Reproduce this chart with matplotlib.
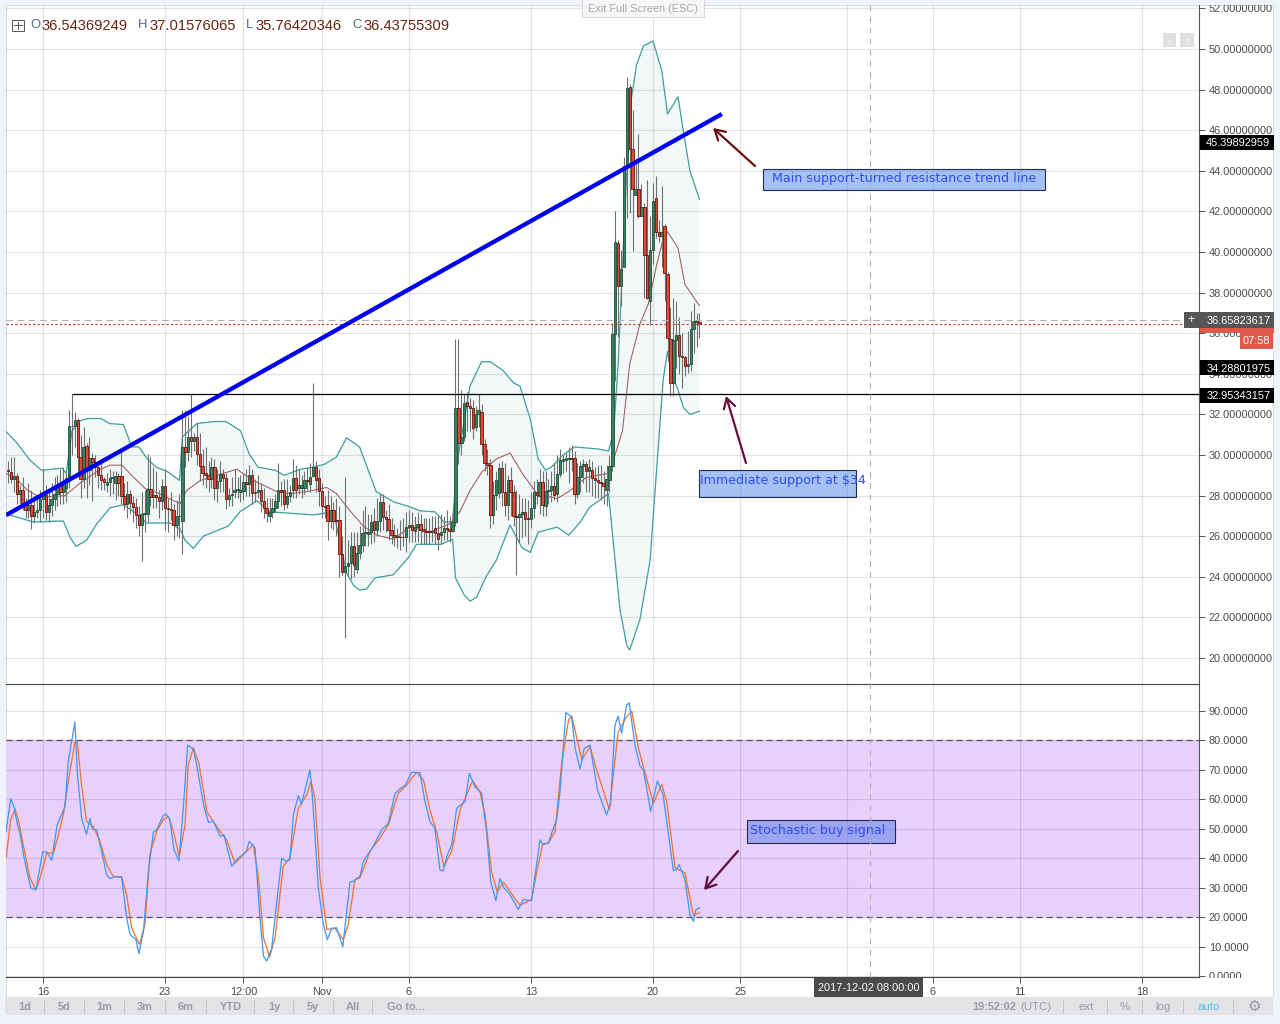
import numpy as np
import matplotlib
matplotlib.use('Agg')
import matplotlib.pyplot as plt
from matplotlib.patches import Rectangle

plt.rcParams['font.family'] = ['Liberation Sans', 'DejaVu Sans']

# 4h candles
opens = [29.26,29.16,28.82,28.95,28.08,28.30,27.55,27.30,27.55,27.00,
         27.20,27.30,27.85,28.05,27.20,27.55,27.85,28.10,28.50,28.20,
         28.40,28.85,31.45,31.45,31.75,29.90,28.80,30.45,29.25,29.85,
         29.65,29.40,29.00,28.80,28.50,28.65,28.85,28.60,28.95,28.95,
         28.00,27.60,28.10,27.65,27.45,27.05,26.55,27.10,27.10,28.35,
         27.95,28.05,27.95,27.75,28.45,27.40,27.35,27.30,26.55,27.00,
         26.75,30.40,30.15,30.90,30.70,30.90,30.05,29.45,29.10,29.00,
         28.80,29.40,28.40,28.70,29.05,28.85,27.85,28.05,28.20,28.30,
         28.20,28.25,28.65,28.55,29.00,28.15,28.20,28.30,27.75,27.40,
         27.00,27.20,27.40,27.75,28.30,28.30,27.60,28.00,28.30,28.85,
         28.40,28.40,28.40,28.75,28.55,28.95,29.40,28.85,28.25,27.50,
         27.55,26.75,27.30,26.80,26.80,25.10,24.25,24.55,24.70,25.50,
         24.40,25.15,25.55,26.15,26.10,26.20,26.75,26.30,26.75,27.70,
         26.95,26.85,26.30,26.05,25.95,25.98,25.97,25.95,26.45,26.55,
         26.25,26.45,26.60,26.35,26.25,26.25,26.20,26.40,26.15,26.05,
         26.20,26.40,26.35,26.25,26.70,32.30,30.60,30.90,32.60,32.40,
         32.30,31.40,32.00,32.10,30.55,29.60,29.50,27.05,28.05,28.15,
         29.35,28.20,27.55,28.75,28.20,27.00,26.95,27.10,27.20,26.90,
         26.85,27.40,28.20,28.00,28.65,27.50,28.25,28.30,28.45,28.10,
         29.05,29.70,29.75,29.80,29.85,29.85,28.10,28.90,29.45,29.55,
         29.20,29.25,28.85,28.75,28.65,28.60,28.30,28.75,29.45,35.95,
         40.45,38.35,39.25,44.25,48.15,45.10,42.80,43.10,41.80,42.20,
         39.85,37.60,40.10,42.65,41.00,40.80,41.30,38.90,35.70,33.55,
         35.65,35.90,34.90,34.85,34.40,34.50,36.20,36.60,36.54]
closes = [29.20,28.82,28.95,28.08,28.28,27.60,27.30,27.55,27.00,27.20,
          27.30,27.85,28.05,27.20,27.55,27.85,28.10,28.50,28.20,28.60,
          28.85,31.45,31.42,31.75,29.90,28.80,30.40,29.25,29.85,29.65,
          29.40,29.00,28.75,28.65,28.65,28.85,28.90,28.95,28.60,28.00,
          27.60,28.10,27.65,27.45,27.05,26.55,27.10,27.15,28.35,27.95,
          28.05,27.95,27.75,28.45,27.40,27.35,27.30,26.55,27.00,27.00,
          30.40,30.15,30.90,30.70,30.90,30.05,29.45,29.10,29.00,28.80,
          29.40,28.40,28.70,29.05,28.85,27.85,28.05,28.10,28.30,28.35,
          28.30,28.65,28.55,29.00,28.15,28.20,28.30,27.75,27.40,27.15,
          27.20,27.40,27.75,28.30,28.20,27.60,28.00,28.20,28.85,28.30,
          28.50,28.50,28.75,28.70,28.90,29.40,28.75,28.25,27.50,27.45,
          26.75,27.30,26.76,26.75,25.10,24.25,24.55,24.70,25.50,24.60,
          25.15,25.55,26.15,26.20,26.20,26.70,26.30,26.75,27.70,26.95,
          26.85,26.30,26.05,25.95,26.00,25.95,25.95,26.45,26.55,26.30,
          26.45,26.60,26.30,26.25,26.20,26.20,26.25,26.15,25.85,26.20,
          26.40,26.35,26.25,26.70,32.30,30.60,30.90,32.55,32.40,32.30,
          31.35,32.00,32.20,30.55,29.60,29.50,27.05,28.05,28.75,29.35,
          28.20,27.55,28.75,28.20,27.00,26.95,27.10,27.20,26.85,26.85,
          27.40,28.20,28.05,28.65,27.55,28.25,28.30,28.45,28.05,29.05,
          29.75,29.80,29.85,29.85,29.80,28.10,28.90,29.45,29.55,29.20,
          29.40,28.85,28.75,28.65,28.60,28.45,28.80,29.45,35.95,40.50,
          38.35,39.15,44.25,48.10,45.10,43.10,43.10,41.80,42.20,39.85,
          37.75,40.10,42.50,41.00,40.80,41.00,38.95,35.75,33.55,35.65,
          35.90,34.90,34.85,34.40,34.50,36.20,36.60,36.55,36.44]
highs = [29.7,29.9,29.9,29.1,28.5,28.9,27.9,28.6,28.3,28.0,
         27.9,28.3,29.3,28.5,28.3,28.6,28.9,29.0,29.3,29.4,
         29.1,32.2,33.0,32.1,31.8,31.0,31.4,30.6,30.9,30.1,
         30.0,29.7,29.6,28.9,29.1,29.3,29.2,29.2,29.1,30.2,
         28.6,28.7,28.3,28.0,27.9,27.5,28.2,28.3,30.05,29.9,
         29.4,29.2,28.3,28.8,29.3,27.9,28.2,27.6,27.8,28.1,
         32.2,32.2,31.9,33.0,31.1,31.6,31.1,30.3,30.4,29.7,
         29.9,29.8,29.3,29.7,29.3,29.1,28.4,28.9,29.3,28.9,
         29.0,29.1,29.3,29.5,29.3,28.8,29.0,28.6,28.4,27.9,
         27.9,27.9,28.1,29.6,28.7,28.8,28.8,28.5,29.8,29.5,
         29.3,29.0,29.2,29.4,29.6,33.55,29.7,29.3,28.6,28.0,
         28.3,28.0,27.7,27.9,27.5,26.0,28.9,25.8,26.2,26.2,
         26.2,26.5,27.3,27.5,27.1,27.1,27.4,27.9,28.1,28.1,
         27.3,27.6,26.9,26.6,26.4,26.8,26.9,27.2,27.3,27.2,
         27.0,27.2,27.1,26.9,26.9,26.9,27.0,27.0,27.0,27.1,
         27.0,27.3,27.0,27.3,35.7,35.7,33.2,33.0,33.1,32.8,
         32.7,32.4,33.0,32.5,30.8,30.3,29.8,28.7,29.2,29.6,
         29.7,29.6,29.0,29.4,28.5,28.3,28.1,27.9,27.9,27.8,
         28.2,28.7,28.8,29.3,29.2,29.2,28.8,29.2,29.6,30.0,
         30.3,30.0,30.1,30.4,30.5,30.2,29.6,29.7,29.8,29.7,
         29.8,29.7,29.4,29.5,29.5,29.2,29.5,30.0,36.5,42.0,
         40.6,40.1,44.7,48.6,48.3,47.0,44.65,45.8,43.35,42.4,
         43.55,41.8,43.4,43.75,41.6,43.25,41.4,39.0,37.3,37.75,
         37.6,36.8,36.0,34.9,36.1,37.1,37.5,37.0,37.02]
lows = [28.6,28.6,28.2,27.6,27.6,27.3,26.9,26.9,26.35,26.7,
        26.9,26.7,26.9,26.8,26.7,27.0,27.3,27.5,27.6,27.6,
        27.7,28.4,30.0,30.4,28.9,27.9,28.4,27.9,28.5,27.75,
        28.9,28.4,28.3,28.3,28.2,28.0,28.1,27.8,28.0,27.6,
        27.3,26.9,27.1,26.7,26.4,26.0,24.8,26.2,26.7,27.5,
        27.4,27.4,26.9,27.3,26.3,26.2,26.8,25.8,26.0,25.9,
        25.1,29.4,29.7,29.9,30.2,29.5,28.7,28.5,28.4,28.2,
        28.4,27.8,27.7,28.2,28.2,27.35,27.5,27.5,27.9,27.9,
        27.7,27.8,28.0,28.0,27.6,27.7,27.9,27.2,26.9,26.7,
        26.7,26.9,27.2,27.4,27.5,27.3,27.4,27.7,27.9,27.9,
        28.1,27.9,28.1,28.3,28.2,28.9,28.2,27.5,26.9,26.9,
        25.8,26.4,26.3,26.0,24.0,24.1,21.0,24.1,23.9,24.0,
        24.2,24.9,25.2,25.5,25.5,25.6,25.7,26.0,26.2,26.3,
        26.2,25.8,25.6,25.5,25.4,25.3,25.5,25.2,25.7,25.7,
        25.7,25.7,25.6,25.6,25.6,25.6,25.7,25.6,25.3,25.6,
        25.8,25.8,25.7,26.2,26.5,29.55,30.0,30.7,31.2,31.2,
        30.8,31.2,31.4,30.0,29.2,29.0,26.4,26.6,27.3,27.9,
        27.5,27.0,26.8,27.0,26.5,24.1,25.7,25.9,26.0,25.6,
        26.4,26.9,27.6,27.1,27.0,27.0,27.6,27.7,27.8,27.7,
        28.9,29.1,29.2,28.6,29.2,27.6,27.9,28.2,28.6,28.2,
        28.2,28.0,27.9,27.9,27.8,27.6,27.5,28.2,29.2,33.65,
        35.8,37.35,39.4,41.7,41.9,40.05,42.85,41.7,42.1,37.75,
        37.7,36.4,39.4,40.7,40.5,39.25,37.6,34.65,32.9,32.9,
        34.3,34.0,33.3,33.9,34.05,34.15,35.05,35.3,35.76]

# Bollinger bands (bar index, price)
upper_x = [-0.7,3,7.5,11.5,18.5,20,22,25,27.6,32,35,39.7,42.6,45,48,51,54.7,59,60,65,70.7,75,80,83,86,92,95,100.7,105,109,
           113,116.5,121,126.7,132.6,138.3,141.8,147,150,153,154.5,159,163,166,170.5,174,176.2,179.7,182.5,185,187,191,195,199,203,206.7,
           208.5,210,212,214,216.3,218.7,222,225,227,230.6,232.4,234.7,238]
upper = [31.15,30.6,29.75,29.25,29.35,29.1,31.2,31.7,31.8,31.8,31.55,31.5,30.4,30.4,29.8,29.4,29.2,28.75,30.9,31.55,31.65,31.65,31.2,30.05,29.4,29.25,29.0,29.3,29.4,29.55,
         29.9,30.85,30.4,28.2,27.7,27.45,27.25,27.2,26.7,26.7,29.55,33.4,34.6,34.6,34.15,33.55,33.4,31.8,29.8,29.25,29.4,30.0,30.4,30.35,30.3,30.2,
         31.2,34.5,41.0,47.05,49.2,50.15,50.4,48.95,46.8,47.65,46.0,44.0,42.6]
mid_x = [-0.7,3,6.4,9.9,15,19.6,24.2,31.7,35.1,39.2,43.2,47.2,51.2,59.2,61.4,66.2,73,78.7,84.4,92.4,97,102.8,109.7,113,
         117.7,122.3,127,132.6,138.3,145,152,155.5,159,163,168,172.8,177,182,189,193.5,199,206.7,208.5,
         211.5,214,217.5,220.4,223.3,225.6,227,230.6,233,238]
mid = [29.1,28.8,28.3,28.0,27.95,28.0,28.55,29.3,29.5,29.5,28.9,28.35,28.15,27.6,28.25,28.75,29.05,29.3,28.75,28.2,28.1,28.2,28.4,28.1,
       27.25,26.5,26.05,25.85,26.45,26.2,26.6,27.2,28.25,29.15,29.8,30.1,29.1,28.1,27.85,28.25,28.9,29.1,29.8,
       31.2,34.5,36.45,37.45,39.4,40.7,41.0,40.2,38.4,37.35]
lower_x = [-0.7,8.7,19,21.3,23.4,27,30.5,35.1,39.7,44.3,47.7,55.7,59.2,60.9,63.8,67.2,75.8,79.8,85.6,90.2,105.1,112,
           116.5,119,121,123.4,126.3,132.6,137.8,140.6,149,153,154,157,159,161.3,164.7,168,172.8,176.8,179.7,182.5,189,193,197,200,206.7,208.5,
           210.6,213,214,217.5,221,223,225.5,227,228.5,230.4,232.4,234.7,238]
lower = [27.1,26.7,26.75,25.95,25.5,25.8,26.6,27.4,27.55,27.1,26.65,26.65,26.35,25.8,25.4,26.0,26.5,27.2,27.75,27.2,27.05,27.2,
         24.2,23.55,23.35,23.4,23.95,24.1,24.95,25.6,25.6,25.85,23.95,23.1,22.8,23.0,24.05,24.8,26.55,25.45,25.2,26.2,26.45,26.05,26.7,27.4,28.1,25.45,
         22.4,20.6,20.4,21.9,24.8,28.8,33.7,35.1,33.85,33.3,32.35,32.0,32.15]

# stochastic %K and %D (bar index, value)
k_x = [-0.7,0.9,2,3.2,4.1,5.5,7.8,9.6,11.9,13.3,15,16.9,19.6,20.7,23,23.8,25.3,27,28.2,29,30.5,32.2,33.9,35,36.8,39.1,40.8,42,44,45,
       46.6,48.3,50,51.1,53.4,54.4,55.7,57.1,58.8,60.3,61.8,63.8,64.9,67.4,69,70.6,73,74.3,77,78.7,82,83,85,86.7,87.9,89,90.7,92.4,94.2,95.7,
       97,98.2,99.9,101,103.9,104.8,106.8,108.5,109.9,111.4,113.1,115.2,117.7,119,120.6,121.1,122.3,125.7,128.6,130.9,133.2,135.5,136.6,138.9,141.8,143.5,145.2,146.9,148.7,149.8,
       151.2,152.7,154.4,157.3,158.8,160.7,163,164.7,166.1,167.9,169.3,170.7,172.8,175.6,177.4,180.2,183.1,184,186,187.1,188.8,190,192,194,195.2,196.9,198.3,200.3,
       202.9,206,207.4,208.9,210,211.2,212.9,213.8,215.8,217.5,218.7,221.2,223.5,225.5,229,230.1,231,233,234.7,235.9,236.8,238]
k_val = [49.1,60.2,57.6,51.4,48.6,40.1,30,29.4,42.2,42.2,39.4,51.4,57.6,72.8,86.3,69.4,53.6,48.2,53.6,50,49.7,42.4,34.5,33.2,33.8,33.6,19.9,14.2,12.5,7.7,
         15.4,35.6,48.9,49.7,54.5,55,53.1,43,39.2,57,78.4,77.1,71.7,57.6,52.2,52.7,47.5,48,37.3,39.6,42.4,45.8,43.5,19.9,6.9,5.2,9.2,24.4,40.1,39,
         39.6,54.8,61.3,58.4,70,60.4,30,17.6,12.5,16.3,16.5,10,32,32.3,33.6,33.9,39,44.1,49.7,52,62.1,64.1,64.6,69.2,69.1,59.3,52.5,50.3,35.9,35.9,
         41.3,44.6,57,59.3,68.9,64.3,62.1,49.1,32.3,25.7,33.2,30,27.7,22.7,26.1,25.7,46.3,44.9,45.2,48.6,53.1,62.7,89.5,88,77.3,70.3,77.3,78.4,
         63.2,54.8,58.7,85.2,88.3,82.4,91.9,92.8,78.4,71.4,70,55.9,66.3,61.5,35.9,36.2,37.9,32.8,21,18.7,22.7,23.2]
d_x = [-0.7,0.9,2.4,3.5,5.2,7.5,9.6,11,13.3,15.6,17.3,19,20.7,23,23.8,25.3,27,29.3,31.6,33.9,36.2,39.1,40.8,42.5,45.2,47.1,48.8,51.1,53.4,55.2,
       56.9,58.9,60.9,62,63.8,65.7,68.4,71.8,75.2,78.1,81,84.4,86.2,87.9,90,91.9,94.7,97,99.9,102.8,104.3,105.6,107.4,109.7,112.5,115.4,117.1,119.4,121.1,124.6,
       128,130.9,134.3,137.2,140.6,143,145.2,147.5,150,152.7,155.6,159.9,162.4,164.2,166.4,168.4,170.5,173.9,176.2,180.2,182,184,186,188.3,190.5,192.9,194,197.5,200.3,202.6,
       207,210,212.9,214.7,217,222.1,225,226.7,229.6,233,235.9,238]
d_val = [40.1,53.1,56.8,53.1,44.6,33.4,29.4,33.4,41.8,41.8,48,54.8,66,79.5,79.5,64.9,52.5,50.8,45.8,37.9,33.9,33.7,27.7,16.5,10.9,17.6,41.3,49.1,53.1,54.2,
         49.1,40.7,51.4,71.7,77.5,72.2,55.9,50.8,46.3,38.4,41.3,44.6,33.4,13.1,6.6,13.1,37.3,40.1,57,61.5,66.3,60.4,33.4,15.9,16.3,12.5,17.6,32.8,33.4,42.4,
         46.9,51.4,62.1,64.9,69.2,66.6,56.5,49.1,37.3,42.4,56.5,66.3,62.7,54.8,35.6,28.6,32,27.2,24.1,26.1,35.6,44.6,45.2,49.1,71.7,86.9,88.3,73.4,77.9,70,
         56.5,82.9,88,89.9,77.3,58.7,65.1,59.3,36.8,35.1,20.7,21.6]

# drawn lines on the price pane
trend_x = [-0.7, 245.7]
trend_y = [27.04, 46.8]
support_x = [22, 410]
support_y = [33.0, 33.0]
cross_price = 36.65823617
last_close = 36.43755309

# axis ticks
price_ticks = list(range(20, 54, 2))
stoch_ticks = list(range(0, 100, 10))
date_ticks = [12, 54, 81, 108, 138, 180, 222, 252, 288.8, 318.4, 348.4, 390.4]
date_labels = ['16', '23', '12:00', 'Nov', '6', '13', '20', '25', '', '6', '11', '18']

W, H = 1280, 1024
fig = plt.figure(figsize=(W / 100, H / 100), dpi=100, facecolor='#f0f3fa')

# white chart background
bg = fig.add_axes([0, 0, 1, 1], zorder=-1)
bg.set_xlim(0, W)
bg.set_ylim(H, 0)
bg.axis('off')
bg.add_patch(Rectangle((6, 5), 1267, 992, fc='white', ec='#dcdde2', lw=0.8))

ax = fig.add_axes([6 / W, 1 - 684 / H, 1193 / W, 679 / H], facecolor='none')
ax2 = fig.add_axes([6 / W, 1 - 977 / H, 1193 / W, 292 / H], facecolor='none')
xlim = (-0.723, 409.95)

for a in (ax, ax2):
    a.set_xlim(xlim)
    a.set_xticks(date_ticks)
    a.set_axisbelow(True)
    a.grid(True, color='k', alpha=0.11, lw=0.85)
    a.yaxis.tick_right()
    a.tick_params(axis='y', length=4, width=0.7, color='#555555', labelsize=7.9,
                  labelcolor='#4a4a4a', pad=3)
    for s in ('left', 'top'):
        a.spines[s].set_visible(False)
    a.spines['right'].set_color('#555555')
    a.spines['bottom'].set_color('#444444')
    a.spines['right'].set_linewidth(0.8)
    a.spines['bottom'].set_linewidth(0.8)

# price pane
ax.set_ylim(18.72, 52.17)
ax.set_yticks(price_ticks)
ax.set_yticklabels(['%.8f' % v for v in price_ticks])
ax.tick_params(axis='x', length=0, labelbottom=False)

x = np.arange(len(closes))
o = np.array(opens)
c = np.array(closes)
up = c >= o

ax.fill(upper_x + lower_x[::-1], upper + lower[::-1], color='teal', alpha=0.05, lw=0, zorder=1)
ax.plot(upper_x, upper, color='#3f9e9e', lw=0.9, zorder=2)
ax.plot(lower_x, lower, color='#3f9e9e', lw=0.9, zorder=2)
ax.plot(mid_x, mid, color='#a05a5a', lw=0.75, zorder=2)

ax.vlines(x, lows, highs, color='#707070', lw=0.8, zorder=3)
ax.bar(x[up], (c - o)[up], bottom=o[up], width=0.85, color='#33835f', edgecolor='#1e4f38', lw=0.6, zorder=4)
ax.bar(x[~up], (c - o)[~up], bottom=o[~up], width=0.85, color='#e04a30', edgecolor='#641510', lw=0.6, zorder=4)

ax.plot(support_x, support_y, color='black', lw=0.9, zorder=5, solid_capstyle='butt')
ax.plot(trend_x, trend_y, color='#0000f0', lw=3.1, zorder=6, solid_capstyle='butt')
ax.axhline(cross_price, color='#b0b0b0', lw=0.8, ls=(0, (6, 4)), zorder=5)
ax.axhline(last_close, color='#c0392b', lw=0.8, ls=(0, (2, 2)), zorder=5)


# price tags on the right axis
def price_tag(price, label, fc, height=15):
    tr = ax.get_yaxis_transform()
    h = height / 20.3
    ax.add_patch(Rectangle((1.0008, price - h / 2), 74 / 1193, h, transform=tr, fc=fc, ec='none',
                           clip_on=False, zorder=7))
    if label:
        ax.text(1.006, price, label, transform=tr, color='white', fontsize=7.9, ha='left',
                va='center_baseline', clip_on=False, zorder=8)


price_tag(45.39892959, '45.39892959', 'black')
price_tag(last_close, '', '#e0584a', height=17)
price_tag(cross_price, '36.65823617', '#555555', height=16)
price_tag(34.28801975, '34.28801975', 'black')
price_tag(32.95343157, '32.95343157', 'black')

# stochastic pane
ax2.set_ylim(-0.2, 98.8)
ax2.set_yticks(stoch_ticks)
ax2.set_yticklabels(['%.4f' % v for v in stoch_ticks])
ax2.tick_params(axis='x', length=4, width=0.7, color='#555555', labelsize=7.9, labelcolor='#4a4a4a', pad=3)
ax2.set_xticklabels(date_labels)
ax2.axhspan(20, 80, fc='#e9d0fc', ec='none', zorder=0.2)
for lvl in (20, 80):
    ax2.axhline(lvl, color='#5f4b6b', lw=0.9, ls=(0, (5, 3)), zorder=2)
ax2.plot(d_x, d_val, color='#f0702a', lw=0.9, zorder=3)
ax2.plot(k_x, k_val, color='#3d97f5', lw=0.9, zorder=4)

# overlay in pixels: toolbar, header, notes
ov = fig.add_axes([0, 0, 1, 1], facecolor='none', zorder=10)
ov.set_xlim(0, W)
ov.set_ylim(H, 0)
ov.axis('off')

# labels get cut at the chart edges
ov.add_patch(Rectangle((0, 0), W, 5, fc='#f0f3fa', ec='none'))
ov.add_patch(Rectangle((1201, 977.5), 72, 20, fc='white', ec='none'))

# header
ov.add_patch(Rectangle((11.5, 19.5), 12, 11, fc='white', ec='#555555', lw=0.7))
ov.plot([17.5, 17.5], [21.5, 28.5], color='#555555', lw=0.7)
ov.plot([13.5, 21.5], [25, 25], color='#555555', lw=0.7)
for xp, s, col, fs in [(30, 'O', '#4a6a8a', 9.4), (42, '36.54369249', '#6b2410', 10.6),
                       (138, 'H', '#4a6a8a', 9.4), (150, '37.01576065', '#6b2410', 10.6),
                       (246, 'L', '#4a6a8a', 9.4), (256, '35.76420346', '#6b2410', 10.6),
                       (352, 'C', '#4a6a8a', 9.4), (363, '36.43755309', '#6b2410', 10.6)]:
    ov.text(xp, 25.5, s, color=col, fontsize=fs, ha='left', va='center')

ov.add_patch(Rectangle((582, -2), 122, 19, fc='#f7f7f9', ec='#d8d8dc', lw=0.7))
ov.text(643, 9, 'Exit Full Screen (ESC)', color='#a8a8a8', fontsize=7.9, ha='center', va='center')
ov.add_patch(Rectangle((1163, 33), 13, 14, fc='#e0e0e2', ec='none'))
ov.add_patch(Rectangle((1180, 33), 14, 14, fc='#e0e0e2', ec='none'))
ov.text(1169.5, 40, '↓', color='white', fontsize=8, ha='center', va='center')
ov.text(1187, 40, '↕', color='white', fontsize=8, ha='center', va='center')

# crosshair + button and countdown
ov.plot([869.5, 869.5], [5, 977], color='#b0b0b0', lw=0.8, ls=(0, (5, 5)))
ov.add_patch(Rectangle((1184, 312), 15, 16, fc='#555555', ec='none'))
ov.text(1191.5, 320, '+', color='white', fontsize=9, ha='center', va='center')
ov.add_patch(Rectangle((1240, 333), 33, 16, fc='#e0584a', ec='none'))
ov.text(1256.5, 341, '07:58', color='white', fontsize=7.9, ha='center', va='center')

# annotations
note_font = 'DejaVu Sans'
ov.add_patch(Rectangle((763, 169), 282, 21, fc=(0.30, 0.52, 0.92, 0.5), ec='#1f2a50', lw=0.8))
ov.text(772.5, 178.5, 'Main support-turned resistance trend line', color='#2f4fe8', family=note_font,
        fontsize=9.1, ha='left', va='center')
ov.add_patch(Rectangle((699, 470), 157, 27, fc=(0.30, 0.52, 0.92, 0.5), ec='#1f2a50', lw=0.8))
ov.text(700, 480.5, 'Immediate support at $34', color='#2f4fe8', family=note_font,
        fontsize=9.1, ha='left', va='center')
ov.add_patch(Rectangle((746.5, 820), 148, 23, fc=(0.32, 0.48, 0.9, 0.5), ec='#1f2a50', lw=0.8))
ov.text(750, 830.5, 'Stochastic buy signal', color='#2f4fe8', family=note_font,
        fontsize=9.1, ha='left', va='center')

for start, end, col in [((755, 166), (713, 128), '#6b0f14'), ((746, 463), (726, 396), '#6a1040'),
                        ((738, 851), (704, 890), '#5f0f3c')]:
    ov.annotate('', xy=end, xytext=start,
                arrowprops=dict(arrowstyle='->,head_width=0.35,head_length=0.6', color=col, lw=1.6,
                                shrinkA=0, shrinkB=0, mutation_scale=12))

# date box and toolbar
ov.add_patch(Rectangle((814, 978), 109, 19, fc='#4a4a4a', ec='none'))
ov.text(868.5, 988, '2017-12-02 08:00:00', color='white', fontsize=7.9, ha='center', va='center')
ov.add_patch(Rectangle((5, 997), 1268, 18, fc='#e3e3e6', ec='none'))
for xp, s in [(25, '1d'), (64, '5d'), (104, '1m'), (145, '3m'), (186, '6m'), (231, 'YTD'), (274, '1y'),
              (313, '5y'), (353, 'All'), (406, 'Go to...')]:
    ov.text(xp, 1007, s, color='#9a9aa2', fontsize=7.9, fontweight='bold', ha='center', va='center')
ov.text(994, 1007, '19:52:02', color='#9a9aa2', fontsize=7.9, fontweight='bold', ha='center', va='center')
for xp, s, col in [(1036, '(UTC)', '#9a9aa2'), (1086, 'ext', '#9a9aa2'), (1125, '%', '#9a9aa2'),
                   (1163, 'log', '#9a9aa2'), (1209, 'auto', '#5bbcf0'), (1254, '⚙', '#9a9aa2')]:
    ov.text(xp, 1007, s, color=col, fontsize=11 if s == '⚙' else 8.2, ha='center', va='center')
for xp in [44, 84, 124, 165, 206, 254, 293, 333, 372, 1063, 1107, 1142, 1183, 1233]:
    ov.plot([xp, xp], [1000, 1013], color='#c4c4c8', lw=0.7)

fig.savefig('out.png', dpi=100, facecolor=fig.get_facecolor())
